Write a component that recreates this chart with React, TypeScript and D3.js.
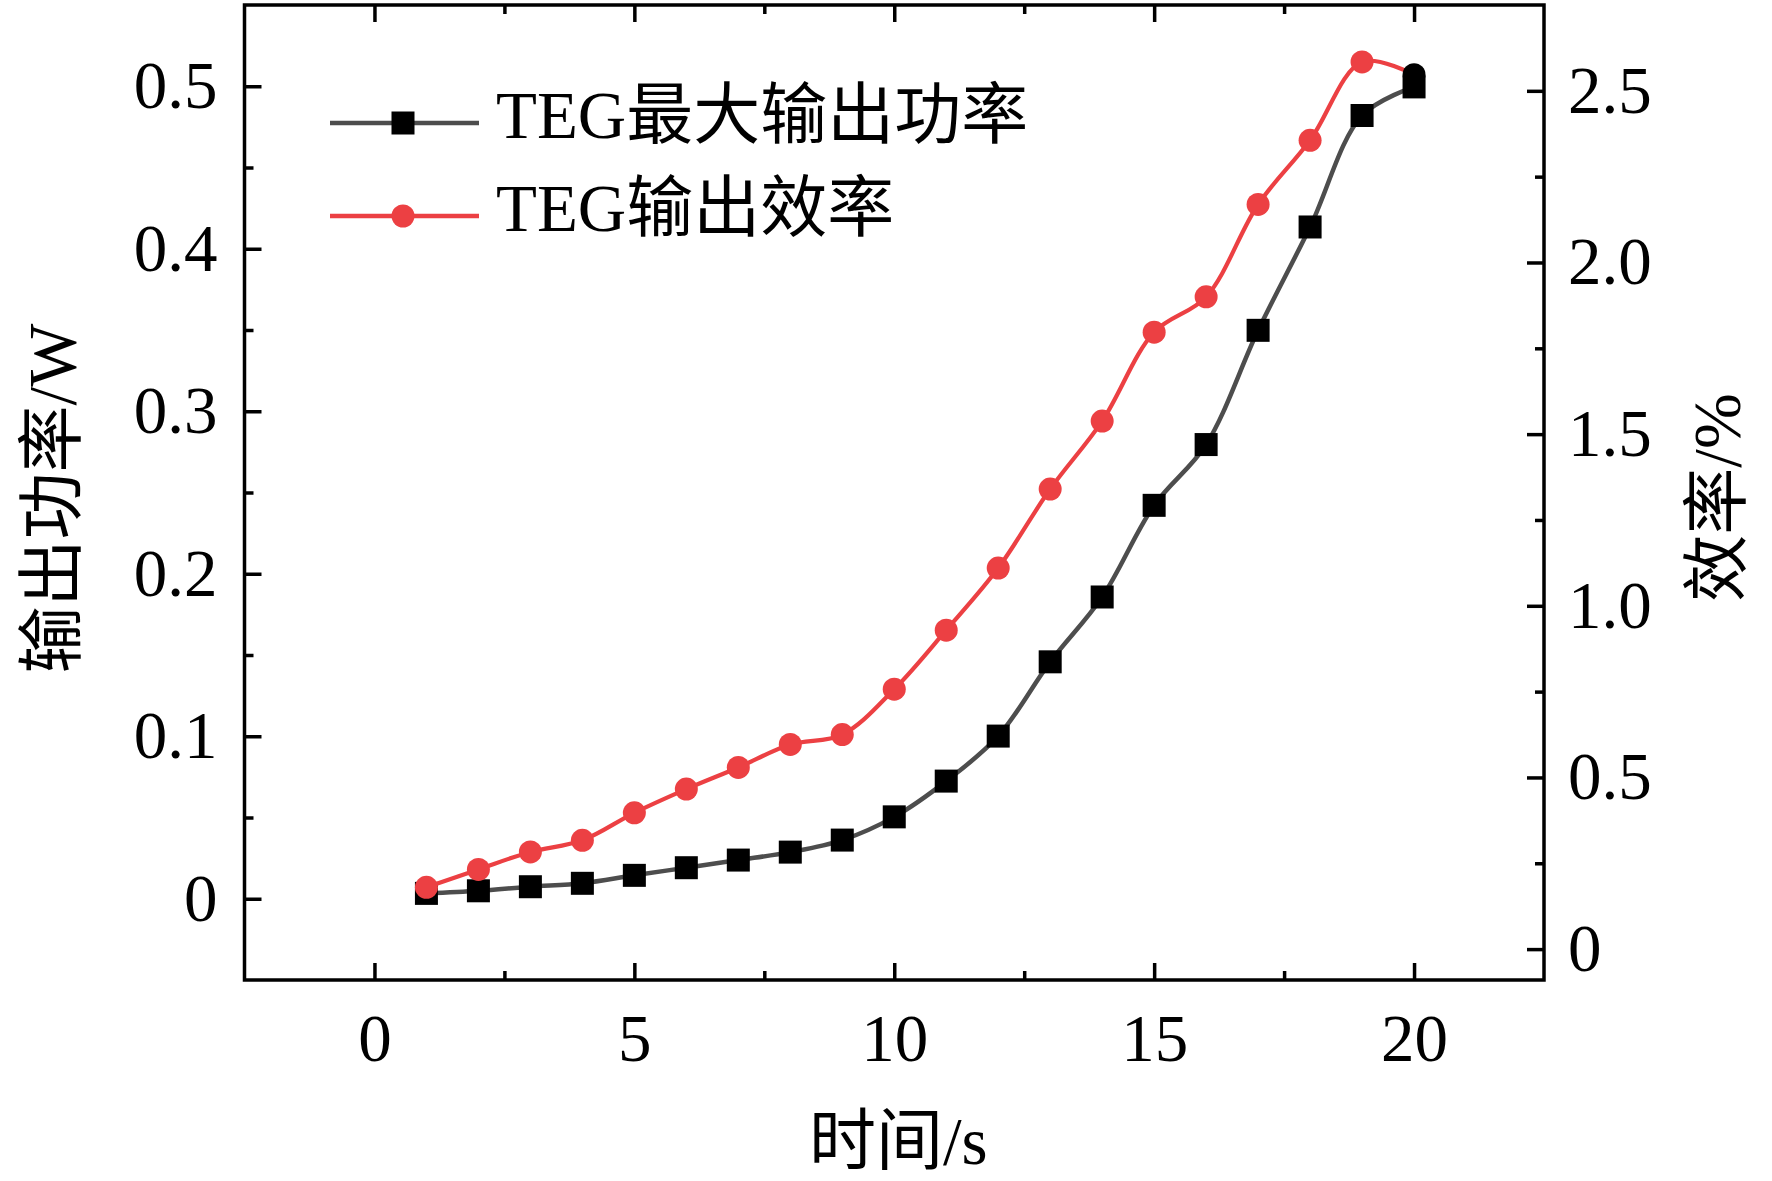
import React, { useEffect, useRef } from "react";
import * as d3 from "d3";

// time (s) and the two measured series
const timeS = [1, 2, 3, 4, 5, 6, 7, 8, 9, 10, 11, 12, 13, 14, 15, 16, 17, 18, 19, 20];
const powerW = [
    0.0033, 0.0049, 0.0074, 0.0095, 0.0144, 0.0191, 0.0238, 0.0287, 0.0361, 0.0504,
    0.0724, 0.1001, 0.1458, 0.1857, 0.2421, 0.2795, 0.3498, 0.4134, 0.482, 0.4996,
];
const efficiencyPct = [
    0.18, 0.232, 0.283, 0.317, 0.397, 0.466, 0.529, 0.596, 0.625, 0.757,
    0.929, 1.11, 1.34, 1.538, 1.797, 1.9, 2.169, 2.356, 2.584, 2.547,
];

const xTicks = [0, 5, 10, 15, 20];
const xMinorTicks = [2.5, 7.5, 12.5, 17.5];
const powerTicks = [0, 0.1, 0.2, 0.3, 0.4, 0.5];
const powerTickLabels = ["0", "0.1", "0.2", "0.3", "0.4", "0.5"];
const powerMinorTicks = [0.05, 0.15, 0.25, 0.35, 0.45];
const effTicks = [0, 0.5, 1, 1.5, 2, 2.5];
const effTickLabels = ["0", "0.5", "1.0", "1.5", "2.0", "2.5"];
const effMinorTicks = [0.25, 0.75, 1.25, 1.75, 2.25];

const seriesNames = ["TEG最大输出功率", "TEG输出效率"];
const xTitle = "时间/s";
const powerTitle = "输出功率/W";
const effTitle = "效率/%";

const W = 1772;
const H = 1181;
const FONT = "'Liberation Serif', 'Times New Roman', 'Noto Sans CJK SC', serif";
const FS = 67;
const GRAY = "#4d4d4d";
const RED = "#ec4043";

export default function App() {
    const svgRef = useRef<SVGSVGElement>(null);

    useEffect(() => {
        const svg = d3.select(svgRef.current);
        svg.selectAll("*").remove();

        const left = 244.5, right = 1544, top = 5, bottom = 980;

        const x = d3.scaleLinear().domain([-2.5, 22.5]).range([left, right]);
        const yP = d3.scaleLinear().domain([-0.05, 0.55]).range([bottom, top]);
        const yE = d3.scaleLinear().domain([-0.09, 2.75]).range([bottom, top]);

        const styleAxis = (g: any) => {
            g.select(".domain").remove();
            g.selectAll("line").attr("stroke", "#000").attr("stroke-width", 3.5);
            g.selectAll("text")
                .attr("font-family", FONT)
                .attr("font-size", FS)
                .attr("fill", "#000");
        };

        // bottom axis
        svg.append("g")
            .attr("transform", `translate(0,${bottom})`)
            .call(d3.axisBottom(x).tickValues(xTicks).tickSizeInner(-17).tickSizeOuter(0).tickPadding(33).tickFormat(d3.format("d")))
            .call(styleAxis)
            .selectAll("text").attr("dy", "0.72em");
        svg.append("g")
            .attr("transform", `translate(0,${bottom})`)
            .call(d3.axisBottom(x).tickValues(xMinorTicks).tickSizeInner(-9).tickSizeOuter(0).tickFormat(() => ""))
            .call(styleAxis);

        // top axis (ticks only)
        svg.append("g")
            .attr("transform", `translate(0,${top})`)
            .call(d3.axisTop(x).tickValues(xTicks).tickSizeInner(-17).tickSizeOuter(0).tickFormat(() => ""))
            .call(styleAxis);
        svg.append("g")
            .attr("transform", `translate(0,${top})`)
            .call(d3.axisTop(x).tickValues(xMinorTicks).tickSizeInner(-9).tickSizeOuter(0).tickFormat(() => ""))
            .call(styleAxis);

        // left axis (power)
        svg.append("g")
            .attr("transform", `translate(${left},0)`)
            .call(d3.axisLeft(yP).tickValues(powerTicks).tickSizeInner(-17).tickSizeOuter(0).tickPadding(27)
                .tickFormat((d, i) => powerTickLabels[i]))
            .call(styleAxis);
        svg.append("g")
            .attr("transform", `translate(${left},0)`)
            .call(d3.axisLeft(yP).tickValues(powerMinorTicks).tickSizeInner(-9).tickSizeOuter(0).tickFormat(() => ""))
            .call(styleAxis);

        // right axis (efficiency)
        svg.append("g")
            .attr("transform", `translate(${right},0)`)
            .call(d3.axisRight(yE).tickValues(effTicks).tickSizeInner(-17).tickSizeOuter(0).tickPadding(24)
                .tickFormat((d, i) => effTickLabels[i]))
            .call(styleAxis);
        svg.append("g")
            .attr("transform", `translate(${right},0)`)
            .call(d3.axisRight(yE).tickValues(effMinorTicks).tickSizeInner(-9).tickSizeOuter(0).tickFormat(() => ""))
            .call(styleAxis);

        // frame
        svg.append("rect")
            .attr("x", left).attr("y", top)
            .attr("width", right - left).attr("height", bottom - top)
            .attr("fill", "none").attr("stroke", "#000").attr("stroke-width", 3.5);

        const powerData = timeS.map((t, i) => ({ t, v: powerW[i] }));
        const effData = timeS.map((t, i) => ({ t, v: efficiencyPct[i] }));

        // power series
        const linePower = d3.line<{ t: number; v: number }>()
            .x((d) => x(d.t)).y((d) => yP(d.v)).curve(d3.curveCatmullRom.alpha(0.5));
        svg.append("path").datum(powerData)
            .attr("d", linePower).attr("fill", "none")
            .attr("stroke", GRAY).attr("stroke-width", 4.5);
        const sq = 23;
        svg.append("g").selectAll("rect").data(powerData).enter().append("rect")
            .attr("x", (d) => x(d.t) - sq / 2)
            .attr("y", (d) => yP(d.v) - sq / 2)
            .attr("width", sq).attr("height", sq)
            .attr("fill", "#000");

        // efficiency series
        const lineEff = d3.line<{ t: number; v: number }>()
            .x((d) => x(d.t)).y((d) => yE(d.v)).curve(d3.curveCatmullRom.alpha(0.5));
        svg.append("path").datum(effData)
            .attr("d", lineEff).attr("fill", "none")
            .attr("stroke", RED).attr("stroke-width", 4.2);
        svg.append("g").selectAll("circle").data(effData).enter().append("circle")
            .attr("cx", (d) => x(d.t))
            .attr("cy", (d) => yE(d.v))
            .attr("r", 11.5)
            .attr("fill", (d, i) => (i === effData.length - 1 ? "#000" : RED));

        // legend
        const legend = svg.append("g");
        const rows = [
            { name: seriesNames[0], color: GRAY, marker: "square", y: 123 },
            { name: seriesNames[1], color: RED, marker: "circle", y: 216 },
        ];
        rows.forEach((r) => {
            legend.append("line")
                .attr("x1", 330).attr("x2", 479).attr("y1", r.y).attr("y2", r.y)
                .attr("stroke", r.color).attr("stroke-width", 4.5);
            if (r.marker === "square") {
                legend.append("rect")
                    .attr("x", 403 - sq / 2).attr("y", r.y - sq / 2)
                    .attr("width", sq).attr("height", sq).attr("fill", "#000");
            } else {
                legend.append("circle")
                    .attr("cx", 403).attr("cy", r.y).attr("r", 11.5).attr("fill", RED);
            }
            legend.append("text")
                .attr("x", 496).attr("y", r.y + 15)
                .attr("font-family", FONT).attr("font-size", FS)
                .text(r.name);
        });

        // axis titles
        svg.append("text")
            .attr("x", (left + right) / 2 + 4).attr("y", 1164)
            .attr("text-anchor", "middle")
            .attr("font-family", FONT).attr("font-size", FS)
            .text(xTitle);
        svg.append("text")
            .attr("transform", `translate(52,${(top + bottom) / 2 + 6}) rotate(-90)`)
            .attr("text-anchor", "middle").attr("dy", "0.35em")
            .attr("font-family", FONT).attr("font-size", FS)
            .text(powerTitle);
        svg.append("text")
            .attr("transform", `translate(1717,${(top + bottom) / 2 + 5}) rotate(-90)`)
            .attr("text-anchor", "middle").attr("dy", "0.35em")
            .attr("font-family", FONT).attr("font-size", FS)
            .text(effTitle);
    }, []);

    return (
        <svg
            ref={svgRef}
            width={W}
            height={H}
            style={{ position: "absolute", left: 0, top: 0, background: "#fff" }}
        />
    );
}
